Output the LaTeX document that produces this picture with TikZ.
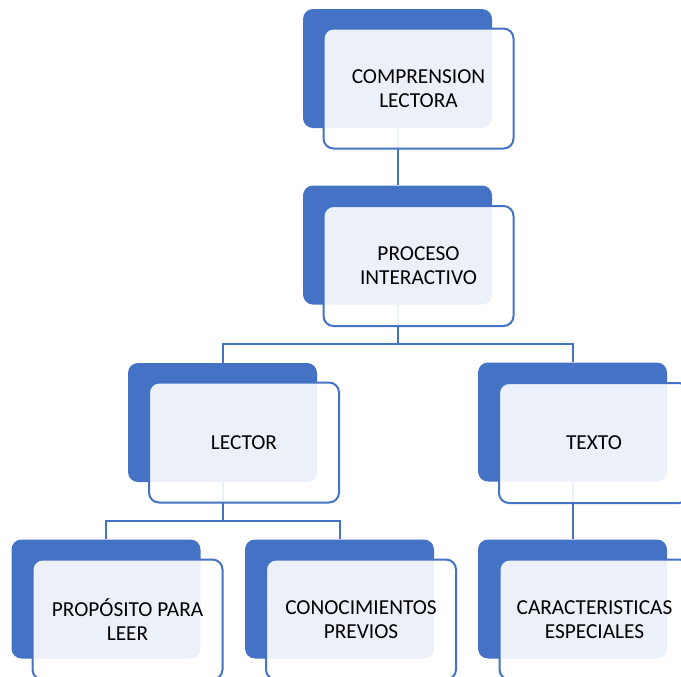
\documentclass[tikz,border=0pt]{standalone}
\usepackage{fontspec}
\setmainfont{Carlito}
\usetikzlibrary{backgrounds}
\definecolor{accent}{HTML}{4472C4}
\begin{document}
\begin{tikzpicture}[x=0.75pt,y=-0.75pt,
 backbox/.style={fill=accent, draw=none, rounded corners=7.5pt, minimum width=141.75pt, minimum height=89.25pt, inner sep=0pt},
 frontbox/.style={draw=accent, line width=1.5pt, fill=white, fill opacity=0.9, text opacity=1, rounded corners=7.5pt, minimum width=142.5pt, minimum height=90pt, inner sep=0pt, align=center, font=\fontsize{16}{18}\selectfont, text=black},
 link/.style={draw=accent, line width=1.5pt}]
\useasboundingbox (0,0) rectangle (681,676);
% back boxes
\node[backbox] (b1) at (397.5,68.5) {};
\node[backbox] (b2) at (397.5,245) {};
\node[backbox] (bL) at (222.5,422.5) {};
\node[backbox] (bT) at (572.5,422) {};
\node[backbox] (bP) at (106,599) {};
\node[backbox] (bC) at (339.5,599) {};
\node[backbox] (bK) at (572.5,599) {};
% front boxes
\node[frontbox] (f1) at (418.5,88.5) {COMPRENSION\\LECTORA};
\node[frontbox] (f2) at (418.5,266) {PROCESO\\INTERACTIVO};
\node[frontbox] (fL) at (244,442.5) {LECTOR};
\node[frontbox] (fT) at (594,443) {TEXTO};
\node[frontbox] (fP) at (127.5,619.5) {PROPÓSITO PARA\\LEER};
\node[frontbox] (fC) at (361,619.5) {CONOCIMIENTOS\\PREVIOS};
\node[frontbox] (fK) at (594.5,619.5) {CARACTERISTICAS\\ESPECIALES};
% connectors
\begin{scope}[on background layer]
\draw[link] (b1.south) -- (b2.north);
\draw[link] (b2.south) -- ++(0,39.5) coordinate (j1);
\draw[link] (bL.north) |- (j1) -| (bT.north);
\draw[link] (bL.south) -- ++(0,39) coordinate (j2);
\draw[link] (bP.north) |- (j2) -| (bC.north);
\draw[link] (bT.south) -- (bK.north);
\end{scope}
\end{tikzpicture}
\end{document}
